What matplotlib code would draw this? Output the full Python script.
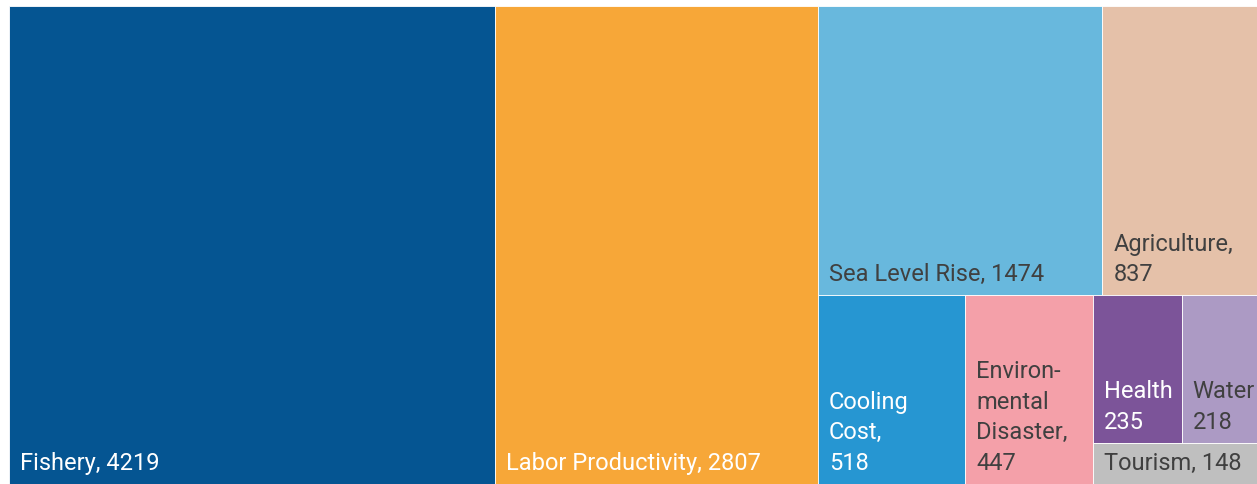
import matplotlib
matplotlib.use("Agg")
import matplotlib.pyplot as plt
from matplotlib.patches import Rectangle

# Damage by sector
sectors = ["Fishery", "Labor Productivity", "Sea Level Rise", "Agriculture",
           "Cooling Cost", "Environmental Disaster", "Health", "Water", "Tourism"]
values = [4219, 2807, 1474, 837, 518, 447, 235, 218, 148]
labels = ["Fishery, 4219", "Labor Productivity, 2807", "Sea Level Rise, 1474",
          "Agriculture,\n837", "Cooling\nCost,\n518", "Environ-\nmental\nDisaster,\n447",
          "Health\n235", "Water\n218", "Tourism, 148"]
colors = ["#055592", "#F7A738", "#68B8DD", "#E5C1A9", "#2696D2",
          "#F4A0A9", "#7C5499", "#AC9AC4", "#BFBFBF"]
text_colors = ["white", "white", "#404040", "#404040", "white",
               "#404040", "white", "#404040", "#404040"]

# treemap size in pixels; it runs a little past the bottom edge of the figure
FIG_W, FIG_H = 1257, 485
LEFT, TOP = 9, 7
W, H = 1255.0, 485.0
CUT = H - (FIG_H - TOP)  # part hidden below the figure


def worst(row, side):
    s = sum(row)
    return max(max(side * side * r / (s * s), s * s / (side * side * r)) for r in row)


def squarify(vals, x, y, w, h):
    # vals already scaled to areas, sorted descending
    rects = []
    vals = list(vals)
    while vals:
        side = min(w, h)
        row = [vals.pop(0)]
        while vals and worst(row + [vals[0]], side) <= worst(row, side):
            row.append(vals.pop(0))
        s = sum(row)
        if w >= h:
            # column on the left, stacked from the top
            cw = s / h
            yy = y + h
            for r in row:
                rh = r / cw
                rects.append((x, yy - rh, cw, rh))
                yy -= rh
            x += cw
            w -= cw
        else:
            # row along the top
            rh = s / w
            xx = x
            for r in row:
                rw = r / rh
                rects.append((xx, y + h - rh, rw, rh))
                xx += rw
            h -= rh
    return rects


total = sum(values)
areas = [v * W * H / total for v in values]
rects = squarify(areas, 0, 0, W, H)

plt.rcParams['font.family'] = ['Roboto', 'DejaVu Sans']
fig = plt.figure(figsize=(FIG_W / 100, FIG_H / 100), dpi=100)
ax = fig.add_axes([LEFT / FIG_W, -CUT / FIG_H, W / FIG_W, H / FIG_H])
ax.set_xlim(0, W)
ax.set_ylim(0, H)
ax.axis('off')

for (x, y, w, h), lab, c, tc in zip(rects, labels, colors, text_colors):
    ax.add_patch(Rectangle((x, y), w, h, facecolor=c, edgecolor='white', linewidth=0.6))
    ax.text(x + 11, max(y, CUT) + 15, lab, color=tc, fontsize=17, ha='left',
            va='baseline', linespacing=1.42)

fig.savefig("out.png", dpi=100)
